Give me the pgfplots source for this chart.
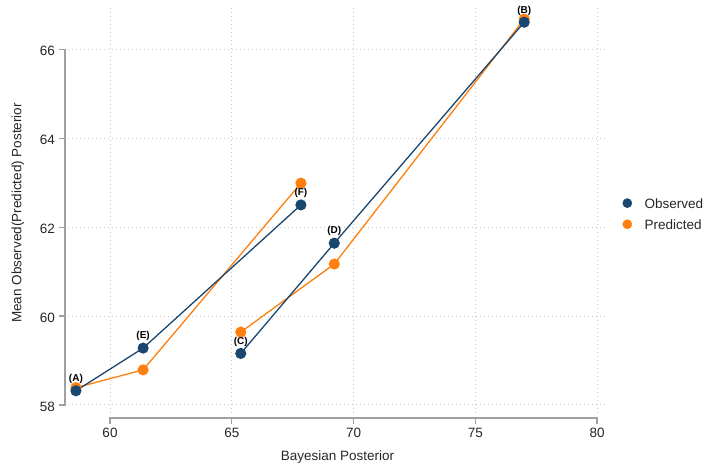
\documentclass[border=0pt]{standalone}
\usepackage{pgfplots}
\pgfplotsset{compat=1.18}
\usepackage{fontspec}
\setmainfont{Liberation Sans}
\definecolor{obs}{RGB}{26,71,111}
\definecolor{pred}{RGB}{255,127,14}
\definecolor{spine}{RGB}{160,160,160}
\definecolor{gridc}{RGB}{200,200,200}

\pgfplotstableread{
x y lab
58.60 58.32 (A)
61.36 59.28 (E)
67.84 62.50 (F)
}\obsA
\pgfplotstableread{
x y lab
65.37 59.16 (C)
69.21 61.64 (D)
77.01 66.61 (B)
}\obsB
\pgfplotstableread{
x y
58.60 58.39
61.36 58.79
67.84 62.99
}\predA
\pgfplotstableread{
x y
65.37 59.64
69.21 61.17
77.01 66.68
}\predB

\begin{document}
\fontsize{13.5bp}{16bp}\selectfont
\begin{tikzpicture}
\useasboundingbox (0,0) rectangle (704bp,468bp);
\begin{axis}[
  at={(68bp,55bp)}, anchor=south west,
  scale only axis, width=539bp, height=405bp,
  xmin=58.275, xmax=80.41, ymin=57.82, ymax=66.93,
  clip=false,
  axis line style={draw=none},
  xtick={60,65,70,75,80}, ytick={58,60,62,64,66},
  major tick length=0pt,
  grid=major,
  major grid style={gridc, line width=1bp, dash pattern=on 1.1bp off 2.9bp},
  /pgf/number format/assume math mode=true,
  tick label style={font=\fontsize{13.5bp}{16bp}\selectfont, black!85},
  xticklabel style={anchor=north, inner sep=0pt, yshift=-15bp},
  yticklabel style={anchor=east, inner sep=0pt, xshift=-13bp, yshift=-1.5bp},
  xlabel={Bayesian Posterior},
  ylabel={Mean Observed(Predicted) Posterior},
  xlabel style={at={(axis description cs:0.5,-0.0938)}, anchor=north, inner sep=0pt, font=\fontsize{13.5bp}{16bp}\selectfont, black!85},
  ylabel style={at={(axis description cs:-0.0928,0.494)}, anchor=center, inner sep=0pt, font=\fontsize{13.5bp}{16bp}\selectfont, black!85},
  legend image code/.code={\fill (0bp,1.4bp) circle (4.6bp);},
  legend cell align=left,
  legend style={at={(rel axis cs:1.0288,0.489)}, anchor=west, draw=none, fill=none,
    inner sep=0pt, outer sep=0pt, row sep=9bp,
    nodes={inner sep=0pt}, font=\fontsize{13.5bp}{16bp}\selectfont, text=black!85,
    /tikz/every even column/.style={column sep=0pt},
    /tikz/every odd column/.style={column sep=12.4bp}},
]
\addplot[pred, line width=1.3bp, mark=*, mark size=4.9bp, mark options={fill=pred, draw=pred}, forget plot] table[x=x,y=y] {\predA};
\addplot[pred, line width=1.3bp, mark=*, mark size=4.9bp, mark options={fill=pred, draw=pred}, forget plot] table[x=x,y=y] {\predB};
\addplot[obs, line width=1.3bp, mark=*, mark size=4.9bp, mark options={fill=obs, draw=obs}, forget plot,
  nodes near coords, point meta=explicit symbolic,
  nodes near coords style={black, font=\bfseries\fontsize{10bp}{10bp}\selectfont, anchor=south, inner sep=0pt, yshift=6.5bp}]
  table[x=x,y=y,meta=lab] {\obsA};
\addplot[obs, line width=1.3bp, mark=*, mark size=4.9bp, mark options={fill=obs, draw=obs}, forget plot,
  nodes near coords, point meta=explicit symbolic,
  nodes near coords style={black, font=\bfseries\fontsize{10bp}{10bp}\selectfont, anchor=south, inner sep=0pt, yshift=6.5bp}]
  table[x=x,y=y,meta=lab] {\obsB};
\addlegendimage{obs, fill=obs}
\addlegendentry{Observed}
\addlegendimage{pred, fill=pred}
\addlegendentry{Predicted}
% axis spines (offset, Stata style)
\draw[spine, line width=1.3bp] ([xshift=-3bp]axis cs:58.275,58) -- ([xshift=-3bp]axis cs:58.275,66);
\pgfplotsinvokeforeach{58,60,62,64,66}{
  \draw[spine, line width=1.3bp] ([xshift=-2.35bp]axis cs:58.275,#1) -- ([xshift=-9bp]axis cs:58.275,#1);
}
\draw[spine, line width=1.3bp] ([yshift=-5bp]axis cs:60,57.82) -- ([yshift=-5bp]axis cs:80,57.82);
\pgfplotsinvokeforeach{60,65,70,75,80}{
  \draw[spine, line width=1.3bp] ([yshift=-4.35bp]axis cs:#1,57.82) -- ([yshift=-11bp]axis cs:#1,57.82);
}
\end{axis}
\end{tikzpicture}
\end{document}
